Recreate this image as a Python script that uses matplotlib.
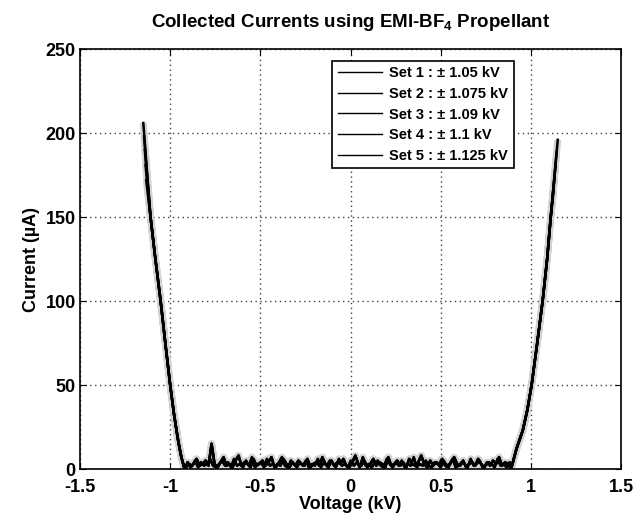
import matplotlib
matplotlib.use('Agg')
import matplotlib.pyplot as plt
import numpy as np

plt.rcParams['font.family'] = ['Liberation Sans', 'DejaVu Sans']
plt.rcParams['font.weight'] = 'bold'
plt.rcParams['mathtext.fontset'] = 'custom'
plt.rcParams['mathtext.bf'] = 'Liberation Sans:bold'
plt.rcParams['mathtext.rm'] = 'Liberation Sans:bold'
plt.rcParams['mathtext.default'] = 'bf'

# legend labels
set_labels = ['Set 1 : \u00b1 1.05 kV', 'Set 2 : \u00b1 1.075 kV', 'Set 3 : \u00b1 1.09 kV',
              'Set 4 : \u00b1 1.1 kV', 'Set 5 : \u00b1 1.125 kV']

# tip of each branch per set (kV, uA)
left_top_v = [-1.133, -1.137, -1.141, -1.145, -1.149]
left_top_i = [172, 181, 190, 198, 206]
right_top_v = [1.125, 1.131, 1.137, 1.143, 1.149]
right_top_i = [165, 173, 181, 189, 196]

# shared lower part of the branches
left_v = [-1.109, -1.082, -1.053, -1.027, -1.0, -0.978, -0.956, -0.938, -0.92]
left_i = [150, 125, 100, 75, 50, 32, 17, 7, 0]
right_v = [0.89, 0.92, 0.955, 0.98, 1.004, 1.035, 1.065, 1.09, 1.11]
right_i = [0, 12, 23, 35, 50, 75, 100, 125, 150]

# noisy baseline current between the branches (uA), two read-outs of the band
base_a = [2, 4, 1, 3, 6, 2, 3, 5, 2, 15, 3, 1, 4, 7, 2, 3, 1, 5, 8, 2, 4, 3, 1, 6, 2, 3, 5, 2, 4, 7, 1, 3, 2, 6, 3, 1, 4, 2, 5, 3,
          2, 6, 1, 3, 4, 2, 7, 3, 1, 5, 2, 4, 3, 6, 2, 1, 4, 8, 3, 2, 5, 1, 3, 6, 2, 4, 3, 1, 7, 2, 3, 5, 2, 4, 1, 6, 3, 2, 4, 8,
          3, 1, 5, 2, 4, 3, 6, 2, 1, 4, 7, 3, 2, 5, 1, 3, 4, 2, 6, 3, 1, 4, 2, 5, 3, 7, 2, 4, 3, 2]
base_b = [1, 3, 2, 5, 1, 4, 2, 3, 6, 2, 1, 3, 5, 2, 4, 1, 6, 2, 3, 1, 5, 2, 7, 1, 3, 4, 1, 6, 2, 3, 1, 4, 7, 2, 1, 5, 3, 1, 4, 2,
          5, 1, 3, 2, 6, 1, 4, 2, 5, 3, 1, 6, 2, 3, 1, 5, 2, 4, 1, 7, 2, 3, 1, 4, 5, 2, 1, 6, 3, 1, 4, 2, 5, 1, 3, 2, 7, 1, 3, 2,
          5, 2, 1, 4, 3, 1, 5, 2, 3, 6, 1, 2, 4, 3, 1, 6, 2, 3, 5, 1, 2, 4, 3, 1, 6, 2, 3, 1, 4, 2]
base_sets = [base_a, base_b, base_a, base_b, base_a]
grid_a = np.linspace(-0.92, 0.89, len(base_a))
grid_b = grid_a + (grid_a[1] - grid_a[0]) / 2
grid_sets = [grid_a, grid_b, grid_a, grid_b, grid_a]

xticks = [-1.5, -1, -0.5, 0, 0.5, 1, 1.5]
xticklabels = ['-1.5', '-1', '-0.5', '0', '0.5', '1', '1.5']
yticks = [0, 50, 100, 150, 200, 250]

fig = plt.figure(figsize=(6.37, 5.22), dpi=100)
ax = fig.add_axes([0.1256, 0.1015, 0.8494, 0.8045])

lines = []
for k in range(len(set_labels)):
    bv = grid_sets[k]
    bi = base_sets[k]
    v = [left_top_v[k]] + left_v + list(bv[1:-1]) + right_v + [right_top_v[k]]
    i = [left_top_i[k]] + left_i + bi[1:-1] + right_i + [right_top_i[k]]
    ax.plot(v, i, color='#d2d2d2', lw=5, zorder=2, solid_capstyle='butt')
    ln, = ax.plot(v, i, color='black', lw=1.8, zorder=3)
    lines.append(ln)

ax.set_xlim(-1.5, 1.5)
ax.set_ylim(0, 250)
ax.set_xticks(xticks)
ax.set_xticklabels(xticklabels)
ax.set_yticks(yticks)
ax.tick_params(direction='in', top=True, right=True, labelsize=13, length=4)
ax.tick_params(axis='x', pad=7)
ax.tick_params(axis='y', pad=3)
ax.grid(True, linestyle=(0, (1, 2.5)), color='0.25', lw=1)
for s in ax.spines.values():
    s.set_linewidth(1.2)

ax.set_xlabel('Voltage (kV)', fontsize=13, fontweight='bold', labelpad=0)
ax.set_ylabel('Current (\u00b5A)', fontsize=13, fontweight='bold', labelpad=4)
ax.set_title('Collected Currents using EMI-BF$_4$ Propellant', fontsize=13.5,
             fontweight='bold', pad=16)

leg = ax.legend(lines, set_labels,
                loc='upper right', bbox_to_anchor=(0.815, 0.99), fontsize=10.5,
                frameon=True, fancybox=False, framealpha=1, edgecolor='black',
                handlelength=3, labelspacing=0.45, borderpad=0.4, handletextpad=0.5)
leg.get_frame().set_linewidth(1.2)
for h in leg.get_lines():
    h.set_linewidth(1.0)
for t in leg.get_texts():
    t.set_fontweight('bold')

fig.savefig('out.png', dpi=100)
